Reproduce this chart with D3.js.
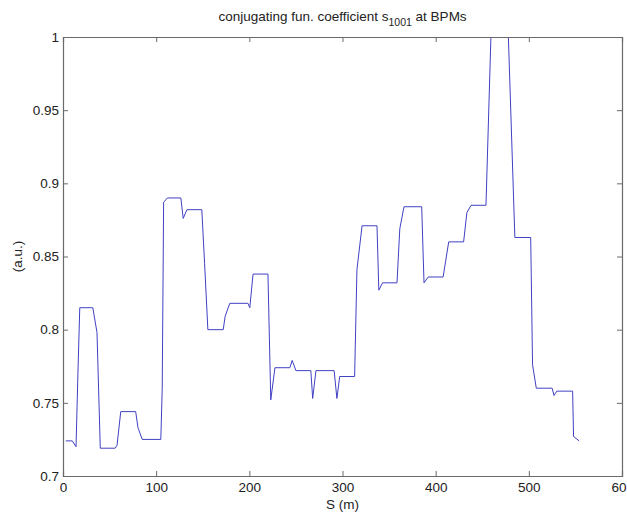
<!DOCTYPE html>
<html>
<head>
<meta charset="utf-8">
<script src="https://cdn.jsdelivr.net/npm/d3@7"></script>
<style>
  body { margin: 0; background: #fff; }
  svg { display: block; font-family: "Liberation Sans", Arial, sans-serif; }
</style>
</head>
<body>
<div id="chart"></div>
<script>
// positions along the ring (m) and the coefficient at each BPM
const sPos = [3, 10, 14, 16, 18, 32, 36.5, 40, 56, 58, 62, 78, 80.5, 85, 105, 106.5, 108, 112,
  126.5, 129, 133, 149, 152, 155.5, 172, 174, 179, 198.5, 200.5, 204, 220, 223, 227.5, 243.5,
  246, 250, 266, 268, 271.5, 291, 294, 297, 313, 315.5, 321, 337, 339, 343, 358.5, 361.5, 366,
  385, 387.5, 392, 408, 414, 430, 433.5, 438, 454, 463, 474, 485, 502, 504, 508, 525, 527, 530,
  547, 548, 554];
const s1001 = [0.724, 0.724, 0.720, 0.770, 0.815, 0.815, 0.798, 0.719, 0.719, 0.721, 0.744, 0.744,
  0.733, 0.725, 0.725, 0.760, 0.887, 0.890, 0.890, 0.876, 0.882, 0.882, 0.845, 0.800, 0.800, 0.809,
  0.818, 0.818, 0.815, 0.838, 0.838, 0.752, 0.774, 0.774, 0.779, 0.772, 0.772, 0.753, 0.772, 0.772,
  0.753, 0.768, 0.768, 0.841, 0.871, 0.871, 0.827, 0.832, 0.832, 0.869, 0.884, 0.884, 0.832, 0.836,
  0.836, 0.860, 0.860, 0.880, 0.885, 0.885, 1.080, 1.080, 0.863, 0.863, 0.776, 0.760, 0.760, 0.755,
  0.758, 0.758, 0.727, 0.724];

// tick labels as they show in the picture (the last one is cut by the edge)
const xTicks = [0, 100, 200, 300, 400, 500, 600];
const xTickLabels = ["0", "100", "200", "300", "400", "500", "60"];
const yTicks = [0.7, 0.75, 0.8, 0.85, 0.9, 0.95, 1];
const yTickLabels = ["0.7", "0.75", "0.8", "0.85", "0.9", "0.95", "1"];

var width = 627, height = 515;
var margin = {top: 37, right: 5, bottom: 39, left: 63};
var fontSize = "13.5px";

var svg = d3.select("#chart").append("svg")
    .attr("width", width)
    .attr("height", height);

var x = d3.scaleLinear()
    .domain([0, 600])
    .range([margin.left, width - margin.right]);

var y = d3.scaleLinear()
    .domain([0.7, 1])
    .range([height - margin.bottom, margin.top]);

// clip the line to the axes box
svg.append("clipPath").attr("id", "box")
  .append("rect")
    .attr("x", margin.left)
    .attr("y", margin.top)
    .attr("width", width - margin.left - margin.right)
    .attr("height", height - margin.top - margin.bottom);

var data = sPos.map((s, i) => ({s: s, v: s1001[i]}));

var line = d3.line()
    .x(d => x(d.s))
    .y(d => y(d.v));

svg.append("path")
    .datum(data)
    .attr("clip-path", "url(#box)")
    .attr("d", line)
    .attr("fill", "none")
    .attr("stroke", "#4040c4")
    .attr("stroke-width", 1);

var axisColor = "#6a6a6a";
var tickLen = 5;

// bottom axis, ticks pointing inward
var gBottom = svg.append("g")
    .attr("transform", `translate(0,${height - margin.bottom})`)
    .call(d3.axisBottom(x).tickValues(xTicks).tickSize(-tickLen).tickPadding(4)
        .tickFormat((d, i) => xTickLabels[i]));

// top axis, ticks only
var gTop = svg.append("g")
    .attr("transform", `translate(0,${margin.top})`)
    .call(d3.axisTop(x).tickValues(xTicks).tickSize(-tickLen).tickFormat(""));

// left axis
var gLeft = svg.append("g")
    .attr("transform", `translate(${margin.left},0)`)
    .call(d3.axisLeft(y).tickValues(yTicks).tickSize(-tickLen).tickPadding(4)
        .tickFormat((d, i) => yTickLabels[i]));

// right axis, ticks only
var gRight = svg.append("g")
    .attr("transform", `translate(${width - margin.right},0)`)
    .call(d3.axisRight(y).tickValues(yTicks).tickSize(-tickLen).tickFormat(""));

[gBottom, gTop, gLeft, gRight].forEach(g => {
    g.select(".domain").attr("stroke", axisColor).attr("stroke-width", 1.2);
    g.selectAll(".tick line").attr("stroke", axisColor);
    g.selectAll("text").attr("fill", "#222").style("font-size", fontSize)
        .style("font-family", "'Liberation Sans', Arial, sans-serif");
});

// "0.7" and "0" sit apart at the corner like matlab does
gLeft.selectAll(".tick text").attr("dy", "0.32em");
gBottom.selectAll(".tick text").attr("dy", "0.9em");
// the last label starts where a full "600" would start
gBottom.selectAll(".tick text").filter(d => d === 600)
    .attr("text-anchor", "start").attr("x", -11);

// title with subscript
var title = svg.append("text")
    .attr("x", (margin.left + width - margin.right) / 2)
    .attr("y", 21)
    .attr("text-anchor", "middle")
    .style("font-size", fontSize)
    .attr("fill", "#222");
title.append("tspan").text("conjugating fun. coefficient s");
title.append("tspan").attr("dy", 5).style("font-size", "10.5px").text("1001");
title.append("tspan").attr("dy", -5).text(" at BPMs");

// axis labels
svg.append("text")
    .attr("x", (margin.left + width - margin.right) / 2)
    .attr("y", 509)
    .attr("text-anchor", "middle")
    .style("font-size", fontSize)
    .attr("fill", "#222")
    .text("S (m)");

svg.append("text")
    .attr("transform", `translate(22,${(margin.top + height - margin.bottom) / 2}) rotate(-90)`)
    .attr("text-anchor", "middle")
    .style("font-size", fontSize)
    .attr("fill", "#222")
    .text("(a.u.)");
</script>
</body>
</html>
